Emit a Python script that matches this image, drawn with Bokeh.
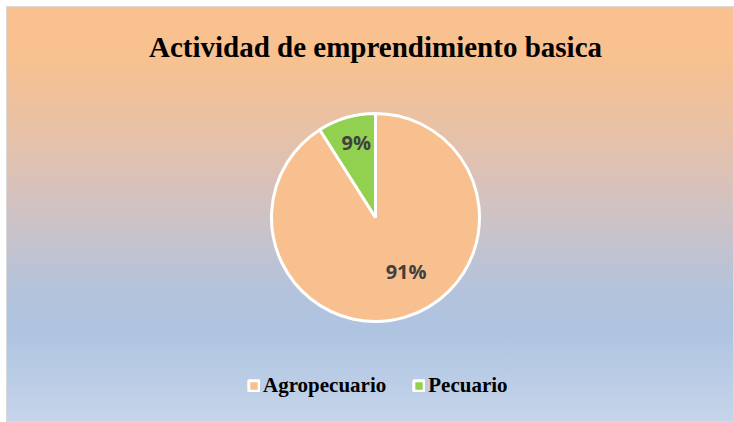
import math
from bokeh.plotting import figure
from bokeh.models import Range1d, Legend, LegendItem, ColumnDataSource
from bokeh.core.properties import value
from bokeh.embed import file_html
from bokeh.resources import INLINE

title_text = "Actividad de emprendimiento basica"
categories = ["Agropecuario", "Pecuario"]
percent = [91, 9]
colors = ["#F9C08F", "#92D050"]

W, H = 728, 416
CX, CY, R = 369, 416 - 211, 104

# angles: start at 12 o'clock, go clockwise
starts, ends, mids = [], [], []
cum = 0.0
for v in percent:
    a0 = math.pi / 2 - 2 * math.pi * cum / 100
    cum += v
    a1 = math.pi / 2 - 2 * math.pi * cum / 100
    starts.append(a0)
    ends.append(a1)
    mids.append((a0 + a1) / 2)

src = ColumnDataSource(dict(cat=categories, pct=percent, start=starts, end=ends, color=colors))

p = figure(width=W, height=H, output_backend="svg", toolbar_location=None,
           x_range=Range1d(0, W), y_range=Range1d(0, H), min_border=0)
p.axis.visible = False
p.grid.visible = False
p.background_fill_alpha = 0
p.border_fill_alpha = 0
p.outline_line_color = "#D9D9D9"
p.outline_line_width = 1
p.styles = {
    "margin-left": "6px",
    "margin-top": "6px",
    "background": "linear-gradient(to bottom, #F9C18F 0%, #F8C18F 12%, #E8C1A6 30%, #D2C2C2 48%, #B4C3DB 68%, #AFC4E1 78%, #C5D5EA 100%)",
}

r = p.wedge(x=CX, y=CY, radius=R, start_angle="start", end_angle="end",
            direction="clock", fill_color="color", line_color="white",
            line_width=3, source=src)

# data labels (radius fraction, angular shift in radians)
place = [(0.6, 0.23), (0.73, 0.0)]
lx = [CX + R * f * math.cos(m + d) for (f, d), m in zip(place, mids)]
ly = [CY + R * f * math.sin(m + d) for (f, d), m in zip(place, mids)]
lx[1] += 2
ly[1] += 2
p.text(x=lx, y=ly, text=[f"{v}%" for v in percent], text_align="center",
       text_baseline="middle", text_font=value("Open Sans"), text_font_style="bold",
       text_font_size="20px", text_color="#404040")

# title
p.text(x=[W / 2 + 5], y=[H - 40], text=[title_text], text_align="center",
       text_baseline="alphabetic", text_font=value("Liberation Serif"), text_font_style="bold",
       text_font_size="29px", text_color="#000000")

items = [LegendItem(label=c, renderers=[r], index=i) for i, c in enumerate(categories)]
legend = Legend(items=items, orientation="horizontal", location=(237, 20),
                background_fill_alpha=0, border_line_alpha=0,
                label_text_font="Liberation Serif", label_text_font_style="bold",
                label_text_font_size="21px", label_text_color="#000000",
                glyph_width=13, glyph_height=13, spacing=26, label_standoff=3,
                padding=4)
p.add_layout(legend)

open("out.html", "w").write(file_html(p, INLINE))
